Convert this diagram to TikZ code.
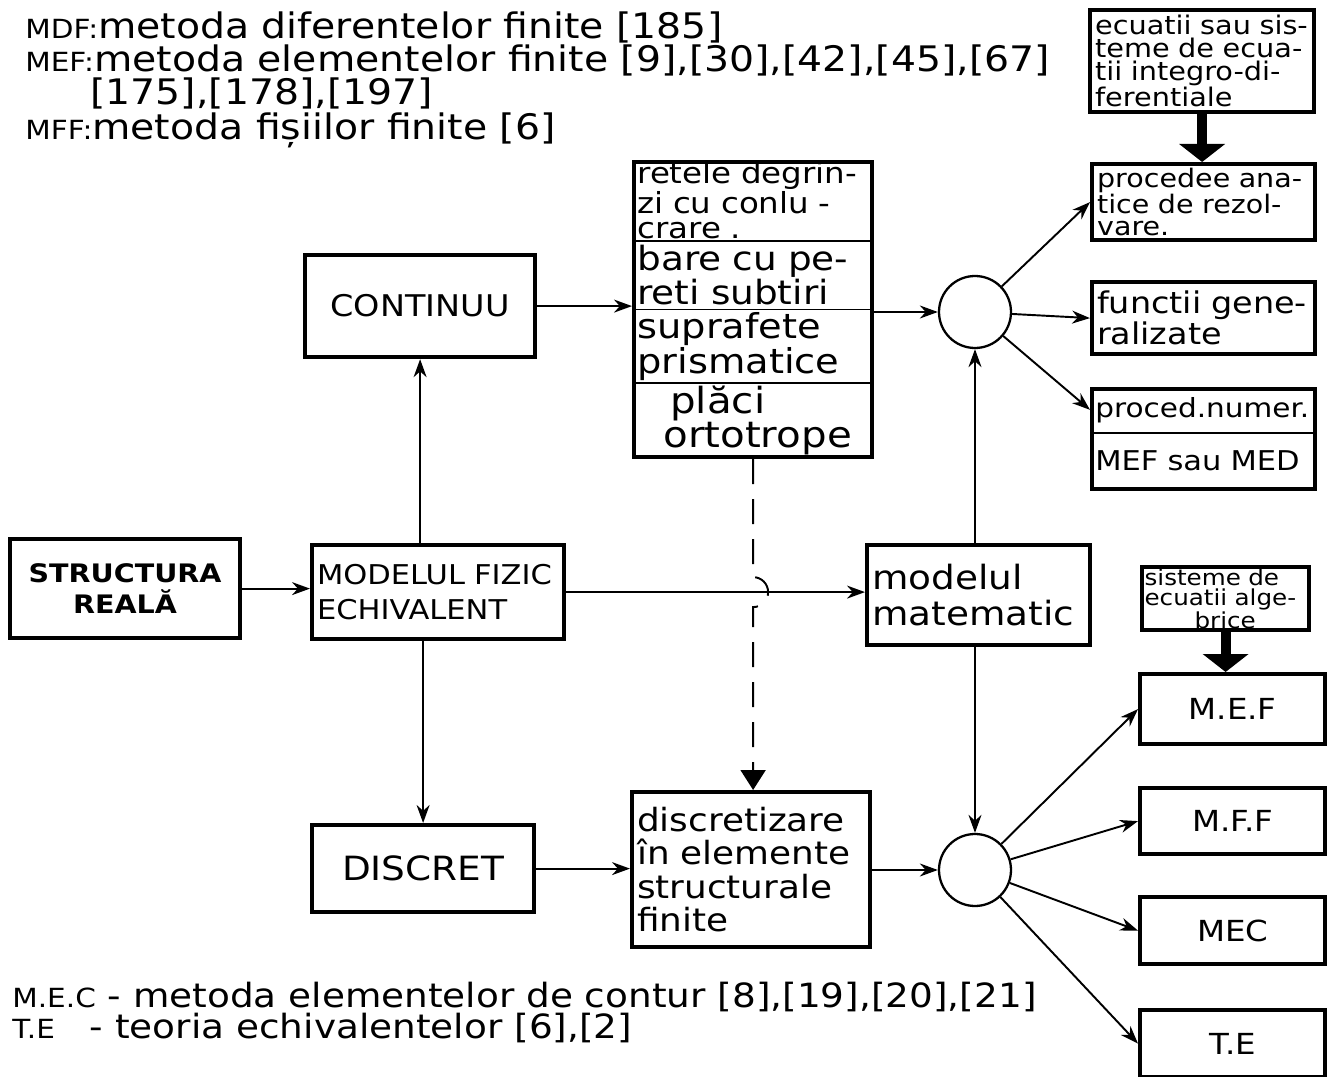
\documentclass[tikz,border=0pt]{standalone}
\usepackage{fontspec}
\setmainfont{DejaVu Sans}[FakeStretch=1.12]
\usepackage{tikz}
\usetikzlibrary{arrows.meta}
\newcommand{\fsz}[2]{\fontsize{#1}{#2}\selectfont}
\tikzset{
  box/.style={draw=black, line width=2.4pt, inner sep=1mm, align=left},
  frame/.style={draw=black, line width=2.4pt, inner sep=0pt},
  cell/.style={anchor=north west, inner xsep=1mm, inner ysep=0pt, align=left},
  ring/.style={circle, draw=black, line width=1.3pt, minimum size=1.44cm, inner sep=0pt},
  sep/.style={line width=1pt},
  arr/.style={-{Stealth[length=3.6mm, width=2.6mm]}, line width=1.1pt},
  fat/.style={-{Triangle[length=3.6mm, width=9mm]}, line width=5.6pt},
  dsh/.style={-{Triangle[length=4mm, width=5mm]}, line width=1.1pt, dash pattern=on 5mm off 3mm},
  txt/.style={anchor=base west, inner sep=0pt},
}

\begin{document}
\begin{tikzpicture}[x=1cm, y=1cm]
  \useasboundingbox (0,0) rectangle (26.6,-21.54);
  % ---------------- legend ----------------
  \node[txt] (hd1) at (0.5,-0.78) {\fsz{15}{15}MDF:\fsz{20}{20}metoda diferentelor finite [185]};
  \node[txt] (hd2) at (0.5,-1.44) {\fsz{15}{15}MEF:\fsz{20}{20}metoda elementelor finite [9],[30],[42],[45],[67]};
  \node[txt] (hd3) at (1.8,-2.1) {\fsz{20}{20}[175],[178],[197]};
  \node[txt] (hd4) at (0.5,-2.8) {\fsz{15}{15}MFF:\fsz{20}{20}metoda fișiilor finite [6]};

  % ---------------- physical model ----------------
  \node[box, anchor=north west, text width=4.4cm, minimum height=1.98cm, align=center, font=\bfseries\fsz{14.5}{18}] (str) at (0.16,-10.74) {STRUCTURA\\REALĂ};
  \node[box, anchor=north west, text width=4.84cm, minimum height=1.88cm, font=\fsz{15.5}{20}] (mfe) at (6.2,-10.86) {MODELUL FIZIC\\ECHIVALENT};
  \node[box, anchor=north west, text width=4.4cm, minimum height=2.04cm, align=center, font=\fsz{17}{22}] (cont) at (6.06,-5.06) {CONTINUU};
  \node[box, anchor=north west, text width=4.24cm, minimum height=1.74cm, align=center, font=\fsz{19}{22}] (disc) at (6.2,-16.46) {DISCRET};

  % ---------------- stacked cases ----------------
  \node[frame, anchor=north west, minimum width=4.76cm, minimum height=5.9cm] (stk) at (12.64,-3.2) {};
  \node[cell, text width=4.56cm, minimum height=1.6cm, font=\fsz{16.5}{14.5}] (k1) at (12.64,-3.2) {retele degrin-\\zi cu conlu -\\crare .};
  \node[cell, text width=4.56cm, minimum height=1.36cm, font=\fsz{19}{17}] (k2) at (k1.south west) {bare cu pe-\\reti subtiri};
  \node[cell, text width=4.56cm, minimum height=1.46cm, font=\fsz{19.5}{18}] (k3) at (k2.south west) {suprafete\\prismatice};
  \node[cell, text width=4.56cm, minimum height=1.48cm, font=\fsz{20.5}{17}] (k4) at (k3.south west) {\hspace*{0.66cm}plăci\\\hspace*{0.52cm}ortotrope};
  \foreach \k in {k1,k2,k3}
    \draw[sep] (\k.south west) -- (\k.south east);

  % ---------------- mathematical model ----------------
  \node[box, anchor=north west, text width=4.26cm, minimum height=2.0cm, font=\fsz{19}{20}] (mm) at (17.3,-10.86) {modelul\\matematic};
  \node[box, anchor=north west, text width=4.56cm, minimum height=3.1cm, font=\fsz{18.2}{19}] (dsc) at (12.6,-15.8) {discretizare\\în elemente\\structurale\\finite};
  \node[ring] (c1) at (19.5,-6.24) {};
  \node[ring] (c2) at (19.5,-17.4) {};

  % ---------------- solution methods ----------------
  \node[box, anchor=north west, text width=4.28cm, minimum height=2.04cm, inner ysep=0pt, font=\fsz{14.6}{13}] (eci) at (21.76,-0.16) {ecuatii sau sis-\\teme de ecua-\\tii integro-di-\\ferentiale};
  \node[box, anchor=north west, text width=4.26cm, minimum height=1.52cm, inner ysep=0pt, font=\fsz{14.5}{12.5}] (pan) at (21.8,-3.24) {procedee ana-\\tice de rezol-\\vare.};
  \node[box, anchor=north west, text width=4.26cm, minimum height=1.44cm, font=\fsz{17}{14}] (fgen) at (21.8,-5.6) {functii gene-\\ralizate};
  \node[frame, anchor=north west, minimum width=4.46cm, minimum height=2.0cm] (pnum) at (21.8,-7.74) {};
  \node[cell, text width=4.26cm, minimum height=0.9cm, font=\fsz{15}{15}] (p1) at (21.8,-7.74) {proced.numer.};
  \node[cell, text width=4.26cm, minimum height=1.1cm, font=\fsz{15.5}{15.5}] (p2) at (p1.south west) {MEF sau MED};
  \draw[sep] (p1.south west) -- (p1.south east);

  \node[box, anchor=north west, text width=3.24cm, inner xsep=0.5mm, minimum height=1.26cm, inner ysep=0pt, font=\fsz{12.5}{11.2}] (sis) at (22.8,-11.3) {sisteme de\\ecuatii alge-\\\hspace*{1.0cm}brice};
  \foreach \n/\y/\h/\t in {mef/-13.44/1.4/M.E.F, mff/-15.72/1.32/M.F.F, mec/-17.9/1.34/MEC, te/-20.16/1.34/T.E}
    \node[box, anchor=north west, text width=3.5cm, minimum height=\h cm, align=center, font=\fsz{16.5}{20}] (\n) at (22.76,\y) {\t};

  % ---------------- footnote ----------------
  \node[txt] (ft1) at (0.24,-20.14) {\fsz{15}{15}M.E.C\fsz{19}{19} - metoda elementelor de contur [8],[19],[20],[21]};
  \node[txt] (ft2) at (0.24,-20.76) {\fsz{15}{15}T.E\fsz{19}{19}\hspace{0.7cm}- teoria echivalentelor [6],[2]};

  % ---------------- connections ----------------
  \draw[arr] (str.east) -- (str.east -| mfe.west);
  \draw[arr] (mfe.north -| cont.south) -- (cont.south);
  \draw[arr] (mfe.south -| disc.north) -- (disc.north);
  \draw[arr] (mfe.east) -- (mfe.east -| mm.west);
  \draw[arr] (cont.east) -- (cont.east -| stk.west);
  \draw[arr] (stk.east |- c1) -- (c1.west);
  \draw[arr] (disc.east) -- (disc.east -| dsc.west);
  \draw[arr] (dsc.east |- c2) -- (c2.west);
  \draw[arr] (mm.north -| c1) -- (c1.south);
  \draw[arr] (mm.south -| c2) -- (c2.north);
  \foreach \t in {pan, fgen, p1}
    \draw[arr] (c1) -- (\t.west);
  \foreach \t in {mef, mff, mec, te}
    \draw[arr] (c2) -- (\t.west);
  \draw[fat] (eci.south) -- (eci.south |- pan.north);
  \draw[fat] (sis.south) -- (sis.south |- mef.north);
  \coordinate (hop) at (stk.south |- mfe.east);
  \draw[dsh] (stk.south) -- ([yshift=0.3cm]hop) arc[start angle=90, end angle=-90, radius=0.3cm] -- (hop |- dsc.north);
\end{tikzpicture}
\end{document}
